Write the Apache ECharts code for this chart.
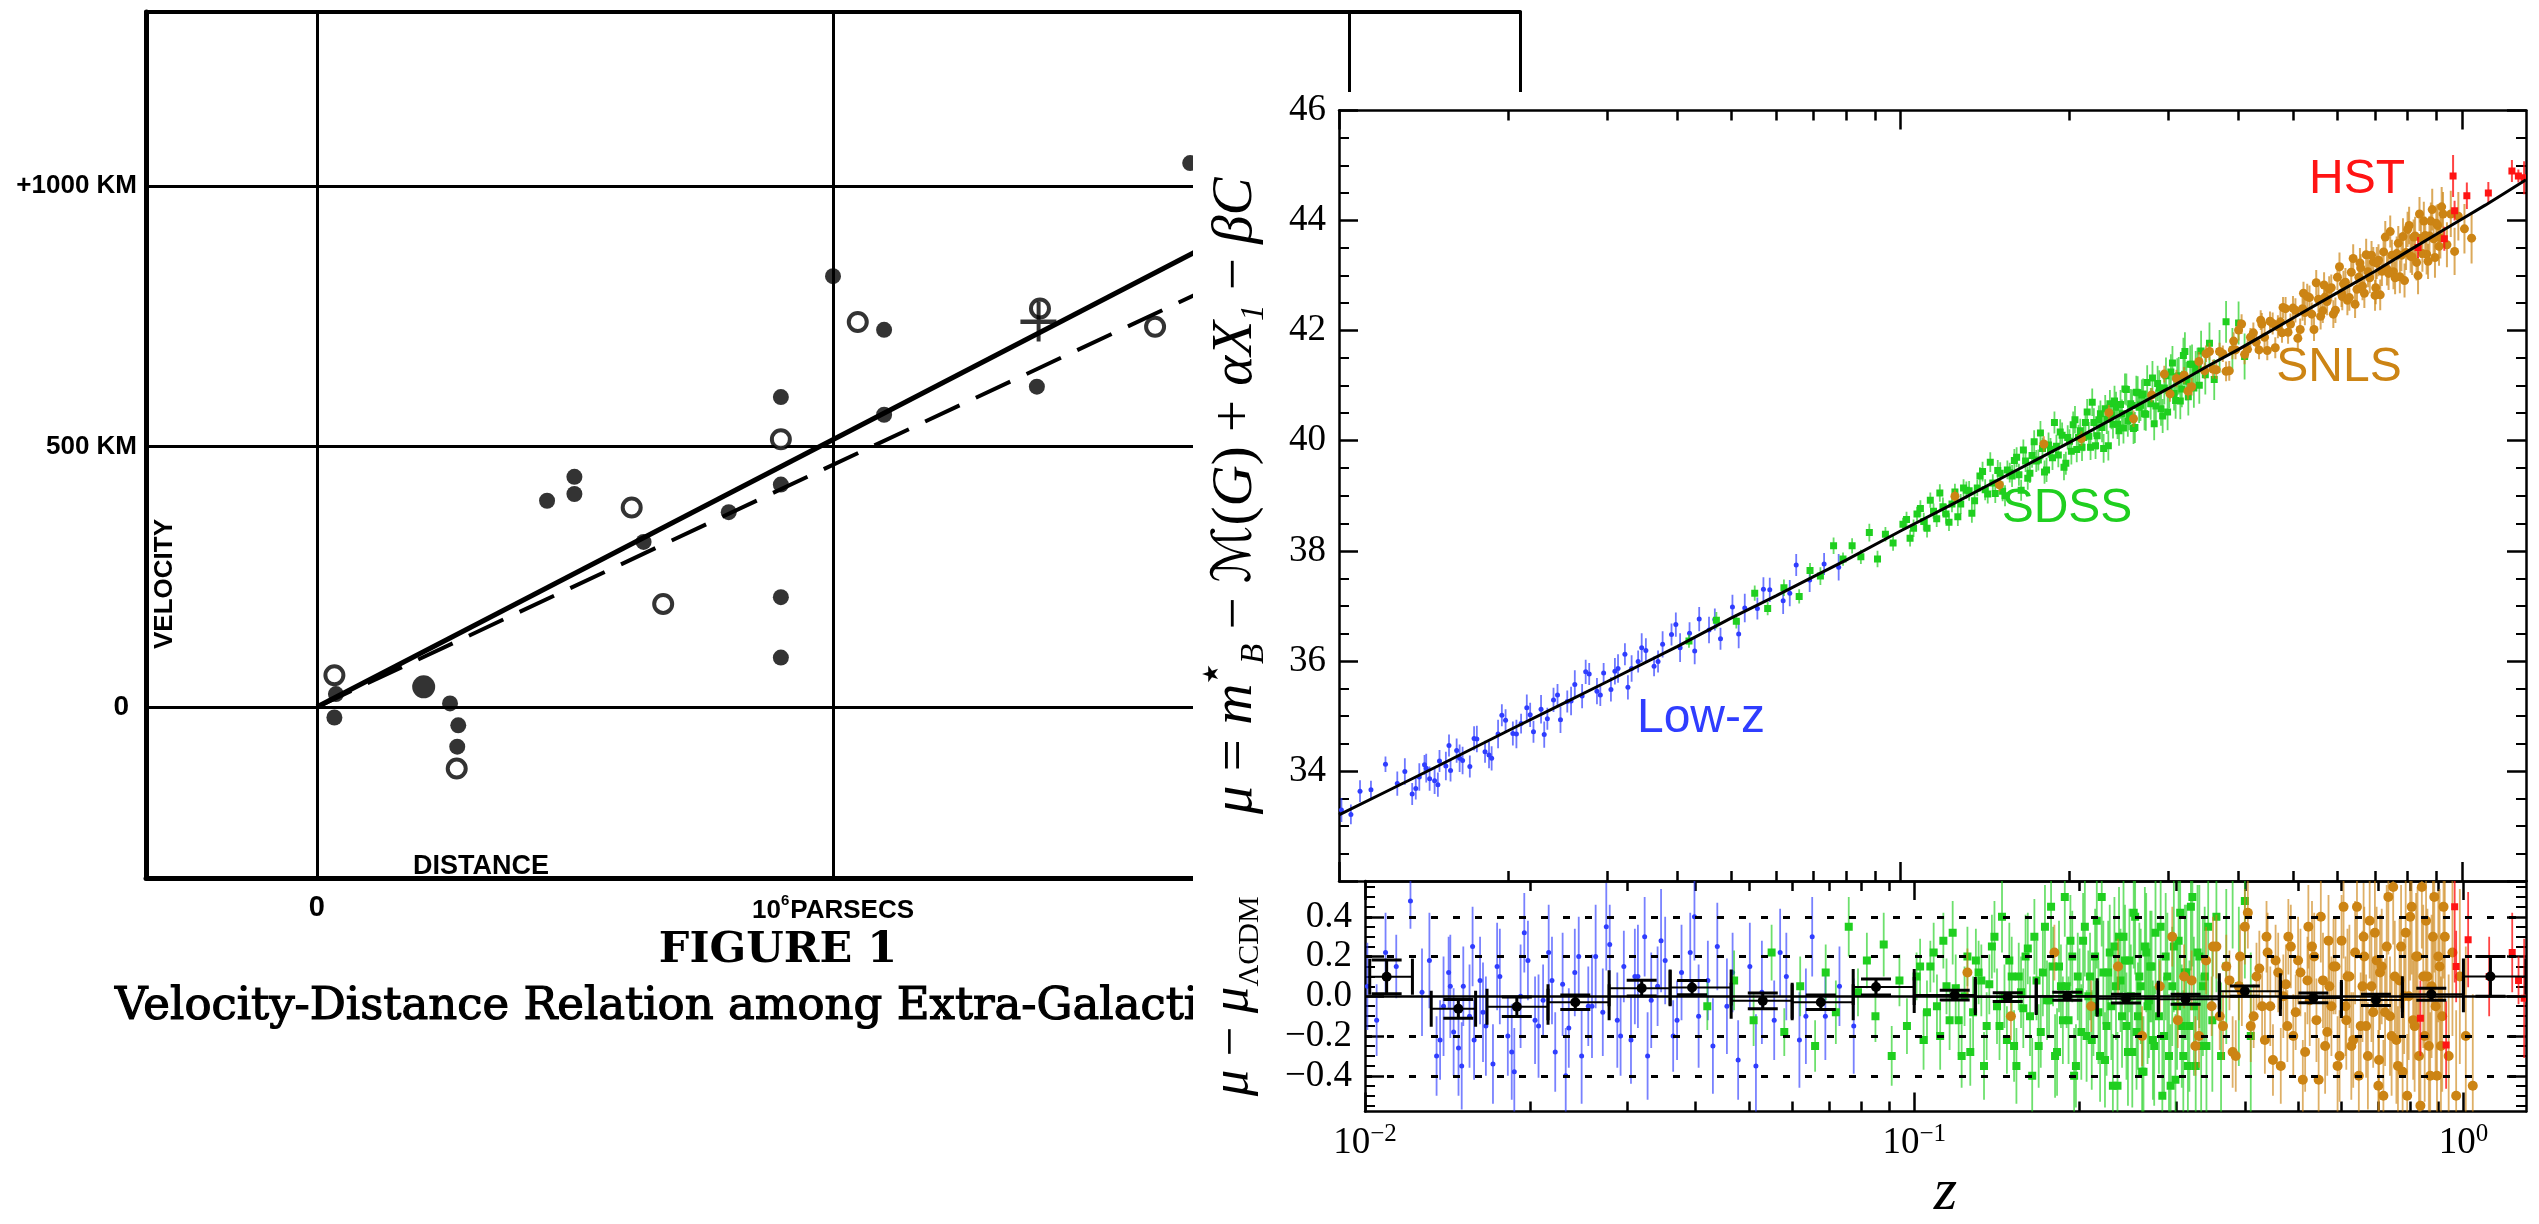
<!DOCTYPE html>
<html><head><meta charset="utf-8">
<script src="https://cdn.jsdelivr.net/npm/echarts@6/dist/echarts.min.js"></script>
<style>
html,body{margin:0;padding:0;background:#fff;}
#hubble{position:absolute;left:0;top:0;width:2539px;height:1224px;}
#jla{position:absolute;left:1193px;top:92px;width:1346px;height:1132px;background:#fff;}
</style></head><body>
<div id="hubble"></div><div id="jla"></div>
<script>
// ================= Hubble (1929) panel data =================
const hubbleFilled = [[0.034,-20],[0.037,25],[0.258,7],[0.274,-35],[0.272,-76],[0.446,396],[0.499,442],[0.499,409],[0.633,317],[0.798,374],[0.899,595],[0.899,427],[0.899,211],[0.899,95],[1.0,827],[1.099,724],[1.099,561],[1.395,615],[1.692,1044]];
const hubbleLarge = [[0.207,39]];
const hubbleOpen = [[0.034,61],[0.271,-118],[0.610,383],[0.671,198],[0.899,514],[1.048,739],[1.401,765],[1.624,730]];
const hubbleCross = [[1.398,740]];
const solidFit = [[0,0],[2.2,1129]];
const dashedFit = [[0,0],[2.2,1023]];
const hubbleXTicks = [0,1,2];
const hubbleXLabels = ['{z|0}','{p|10}{s|6}{p|PARSECS}',''];
const hubbleYTicks = [0,500,1000];
const hubbleYLabels = ['{z|0}','500 KM','+1000 KM'];

// ================= JLA Hubble diagram data =================
const lowzZ = [0.0101,0.0105,0.0109,0.0114,0.0121,0.0127,0.0135,0.0139,0.0142,0.0145,0.0148,0.0151,0.0155,0.0158,0.0162,0.0166,0.0171,0.0176,0.0182,0.0187,0.0192,0.0198,0.0204,0.0211,0.0216,0.0222,0.0229,0.0235,0.0241,0.0248,0.0255,0.0263,0.0271,0.0279,0.0288,0.0296,0.0305,0.0314,0.0323,0.0332,0.0341,0.0352,0.0364,0.0377,0.0391,0.0405,0.0421,0.0438,0.0456,0.0478,0.0502,0.0528,0.0556,0.0585,0.0618,0.0652,0.0689,0.0731,0.0776];
const lowzMu = [33.29,33.21,33.63,33.66,34.12,33.77,33.58,33.89,34.11,33.86,33.82,34.18,34.09,34.01,34.37,34.19,34.08,34.58,34.35,34.23,34.67,34.92,34.68,34.86,35.15,34.71,35.12,34.95,35.29,34.93,35.26,35.57,35.36,35.76,35.45,35.78,35.48,35.86,36.12,35.86,35.99,36.19,35.90,36.30,36.48,36.24,36.50,36.76,36.56,36.40,36.98,36.96,36.95,37.29,37.09,37.74,37.47,37.76,37.70];
const lowzRes = [0.05,-0.12,0.22,0.15,0.48,0.02,-0.30,-0.05,0.12,-0.18,-0.26,0.05,-0.10,-0.22,0.08,-0.15,-0.34,0.10,-0.20,-0.38,0.00,0.18,-0.12,-0.02,0.22,-0.28,0.06,-0.16,0.12,-0.30,-0.05,0.20,-0.08,0.26,-0.12,0.15,-0.22,0.10,0.30,-0.02,0.05,0.18,-0.20,0.12,0.22,-0.10,0.08,0.25,-0.05,-0.32,0.15,0.02,-0.12,0.10,-0.22,0.30,-0.10,0.05,-0.15];
const lowzErr = [0.22,0.18,0.20,0.16,0.14,0.22,0.20,0.25,0.18,0.22,0.24,0.20,0.26,0.20,0.22,0.25,0.20,0.24,0.20,0.22,0.26,0.20,0.22,0.18,0.24,0.20,0.26,0.20,0.22,0.24,0.20,0.26,0.22,0.20,0.24,0.18,0.22,0.26,0.20,0.24,0.20,0.22,0.18,0.24,0.20,0.26,0.20,0.22,0.24,0.20,0.22,0.26,0.20,0.22,0.24,0.20,0.22,0.20,0.24];
const lowzZ2 = [0.0131,0.0137,0.0143,0.0150,0.0157,0.0164,0.0174,0.0185,0.0195,0.0207,0.0219,0.0232,0.0245,0.0259,0.0275,0.0292,0.0310,0.0327,0.0346,0.0370,0.0398,0.0430,0.0467,0.0515,0.0570,0.0635];
const lowzMu2 = [33.99,33.68,34.05,33.75,34.46,34.23,34.59,34.29,35.01,34.67,35.02,34.66,35.38,35.27,35.80,35.38,35.81,35.52,36.24,35.99,36.66,36.18,36.75,36.49,37.30,37.23];
const lowzRes2 = [0.18,-0.22,0.05,-0.35,0.25,-0.08,0.15,-0.28,0.32,-0.15,0.08,-0.40,0.20,-0.05,0.35,-0.20,0.10,-0.30,0.28,-0.12,0.40,-0.25,0.12,-0.35,0.22,-0.10];
const lowzErr2 = [0.24,0.20,0.26,0.22,0.20,0.25,0.22,0.24,0.20,0.26,0.22,0.24,0.20,0.26,0.22,0.20,0.24,0.22,0.26,0.20,0.22,0.24,0.20,0.26,0.22,0.24];

const sdssZ = [0.042,0.047,0.051,0.055,0.058,0.062,0.066,0.069,0.072,0.076,0.079,0.082,0.085,0.088,0.091,0.094,0.097,0.101,0.104,0.107,0.110,0.113,0.116,0.119,0.122,0.125,0.128,0.131,0.134,0.137,0.140,0.143,0.146,0.149,0.152,0.155,0.158,0.161,0.164,0.167,0.170,0.173,0.176,0.179,0.182,0.185,0.188,0.191,0.194,0.197,0.200,0.203,0.206,0.209,0.212,0.215,0.218,0.221,0.224,0.227,0.230,0.233,0.236,0.239,0.242,0.245,0.248,0.251,0.254,0.257,0.260,0.263,0.266,0.269,0.272,0.275,0.279,0.283,0.287,0.291,0.295,0.299,0.303,0.307,0.311,0.315,0.319,0.323,0.328,0.333,0.338,0.343,0.349,0.355,0.362,0.370,0.380,0.390,0.400,0.410];
const sdssMu = [36.36,36.74,36.72,37.23,36.95,37.33,37.17,37.64,37.54,38.09,37.85,38.09,37.89,38.33,37.85,38.30,38.14,38.48,38.23,38.67,38.53,38.92,38.58,38.80,38.52,39.07,38.85,39.10,38.68,39.14,39.44,39.03,39.23,39.46,39.08,39.47,39.36,39.70,39.10,39.63,39.41,39.98,39.65,39.86,39.47,39.84,40.33,39.74,40.10,39.59,39.99,40.29,39.84,40.18,40.06,40.52,39.88,40.33,40.09,40.49,39.86,40.39,40.67,40.30,40.61,40.18,40.49,40.94,40.36,40.67,40.22,40.88,40.61,40.83,40.49,41.06,40.67,40.31,41.04,40.58,40.96,40.52,41.25,40.86,41.16,40.72,41.55,41.08,41.39,40.96,41.34,41.63,41.20,41.77,41.11,41.62,42.16,41.65,42.14,41.53];
const sdssRes = [-0.05,0.08,-0.12,0.22,-0.18,0.05,-0.25,0.12,-0.08,0.35,0.02,0.18,-0.10,0.26,-0.30,0.08,-0.15,0.10,-0.22,0.15,-0.05,0.28,-0.12,0.04,-0.30,0.20,-0.08,0.12,-0.35,0.06,0.30,-0.15,0.00,0.18,-0.25,0.10,-0.06,0.24,-0.40,0.08,-0.18,0.35,-0.02,0.15,-0.28,0.05,0.50,-0.12,0.20,-0.35,0.02,0.28,-0.20,0.10,-0.05,0.38,-0.30,0.12,-0.15,0.22,-0.45,0.05,0.30,-0.10,0.18,-0.28,0.00,0.42,-0.18,0.10,-0.38,0.25,-0.05,0.15,-0.22,0.32,-0.10,-0.50,0.20,-0.30,0.05,-0.42,0.28,-0.15,0.12,-0.35,0.45,-0.05,0.22,-0.25,0.10,0.35,-0.12,0.40,-0.30,0.15,0.62,0.05,0.48,-0.20];
const sdssErr = [0.12,0.15,0.13,0.14,0.12,0.15,0.13,0.14,0.16,0.15,0.12,0.14,0.13,0.16,0.15,0.13,0.14,0.12,0.15,0.13,0.16,0.14,0.15,0.17,0.16,0.15,0.18,0.16,0.17,0.15,0.18,0.17,0.16,0.19,0.18,0.17,0.20,0.18,0.19,0.20,0.18,0.21,0.19,0.20,0.22,0.21,0.20,0.22,0.23,0.21,0.22,0.24,0.23,0.22,0.25,0.24,0.23,0.26,0.25,0.24,0.26,0.27,0.25,0.26,0.28,0.27,0.26,0.28,0.29,0.27,0.28,0.30,0.29,0.28,0.30,0.31,0.29,0.30,0.32,0.31,0.30,0.33,0.32,0.31,0.34,0.33,0.32,0.35,0.34,0.36,0.35,0.37,0.36,0.38,0.37,0.39,0.38,0.40,0.39,0.42];
const sdssZ2 = [0.1025,0.1055,0.1085,0.1115,0.1145,0.1175,0.1205,0.1235,0.1265,0.1295,0.1325,0.1355,0.1385,0.1415,0.1445,0.1475,0.1505,0.1535,0.1565,0.1595,0.1625,0.1655,0.1685,0.1715,0.1745,0.1775,0.1805,0.1835,0.1865,0.1895,0.1925,0.1955,0.1985,0.2015,0.2045,0.2075,0.2105,0.2135,0.2165,0.2195,0.2225,0.2255,0.2285,0.2315,0.2345,0.2375,0.2405,0.2435,0.2465,0.2495,0.2525,0.2555,0.2585,0.2615,0.2645,0.2675,0.2705,0.2735,0.281,0.285,0.289,0.293,0.297,0.301,0.305,0.309,0.313,0.317,0.321,0.3255,0.3305,0.3355,0.3405];
const sdssMu2 = [38.57,38.41,38.77,38.41,38.72,39.05,38.67,38.85,38.62,39.14,39.09,38.91,39.36,39.11,39.61,39.04,39.41,39.00,39.42,39.64,39.38,39.83,39.32,39.73,39.63,40.14,39.43,39.92,39.69,39.90,40.16,39.52,40.06,39.81,40.38,40.06,39.88,40.33,40.08,40.70,39.91,40.38,40.24,40.58,39.91,40.47,40.72,40.30,40.66,40.23,40.93,40.46,40.64,40.24,40.87,40.65,40.85,40.48,41.14,40.63,40.96,40.45,41.18,40.91,41.41,40.73,41.18,40.94,41.62,40.80,41.39,41.28,41.01];
const sdssRes2 = [0.15,-0.08,0.22,-0.20,0.05,0.32,-0.12,0.00,-0.28,0.18,0.08,-0.15,0.25,-0.05,0.40,-0.22,0.10,-0.35,0.02,0.20,-0.10,0.30,-0.25,0.12,-0.02,0.45,-0.30,0.15,-0.12,0.05,0.28,-0.40,0.10,-0.18,0.35,0.00,-0.22,0.20,-0.08,0.50,-0.32,0.12,-0.05,0.25,-0.45,0.08,0.30,-0.15,0.18,-0.28,0.40,-0.10,0.05,-0.38,0.22,-0.02,0.15,-0.25,0.35,-0.20,0.10,-0.45,0.25,-0.05,0.42,-0.30,0.12,-0.15,0.50,-0.35,0.20,0.05,-0.25];
const sdssErr2 = [0.14,0.16,0.15,0.17,0.14,0.16,0.18,0.15,0.17,0.16,0.18,0.17,0.16,0.19,0.18,0.17,0.20,0.19,0.18,0.21,0.20,0.19,0.21,0.22,0.20,0.22,0.21,0.23,0.22,0.21,0.23,0.24,0.22,0.24,0.25,0.23,0.25,0.24,0.26,0.25,0.24,0.26,0.27,0.25,0.27,0.26,0.28,0.27,0.26,0.28,0.29,0.27,0.29,0.28,0.30,0.29,0.28,0.30,0.31,0.30,0.32,0.31,0.33,0.32,0.31,0.33,0.34,0.33,0.35,0.34,0.36,0.35,0.34];

const snlsZ = [0.125,0.15,0.18,0.21,0.235,0.26,0.28,0.295,0.302,0.31,0.325,0.34,0.348,0.355,0.365,0.375,0.385,0.392,0.395,0.405,0.415,0.425,0.435,0.438,0.445,0.455,0.465,0.475,0.478,0.485,0.495,0.505,0.515,0.522,0.525,0.535,0.545,0.555,0.565,0.568,0.575,0.585,0.595,0.605,0.612,0.615,0.625,0.635,0.645,0.655,0.658,0.665,0.675,0.685,0.695,0.702,0.705,0.715,0.725,0.735,0.745,0.755,0.765,0.775,0.785,0.795,0.805,0.815,0.825,0.835,0.845,0.855,0.865,0.875,0.885,0.895,0.905,0.915,0.925,0.94,0.955,0.97,0.985,1.01,1.04];
const snlsMu = [38.99,39.20,39.94,40.04,40.51,40.40,40.83,41.21,40.85,41.13,40.90,41.44,41.27,41.62,41.29,41.58,41.27,41.81,41.65,42.12,41.66,41.96,41.65,42.19,41.88,42.17,41.69,42.16,41.96,42.40,42.12,42.37,42.02,42.68,42.33,42.60,42.02,42.57,42.36,42.83,42.53,42.78,42.37,43.16,42.62,42.85,42.55,43.06,42.48,42.97,43.23,42.81,43.38,42.96,43.25,42.78,43.23,42.65,43.43,43.12,43.80,43.07,43.40,42.98,43.71,43.42,43.91,43.34,43.72,43.00,43.68,43.99,43.39,43.72,44.20,43.33,43.91,43.69,44.12,43.56,44.12,43.44,44.08,43.85,43.68];
const snlsRes = [0.12,-0.10,0.22,-0.05,0.15,-0.20,0.05,0.30,-0.12,0.10,-0.25,0.18,-0.05,0.25,-0.15,0.08,-0.30,0.20,0.02,0.42,-0.10,0.14,-0.22,0.30,-0.05,0.18,-0.35,0.06,-0.15,0.25,-0.08,0.12,-0.28,0.35,-0.02,0.20,-0.42,0.08,-0.18,0.28,-0.05,0.15,-0.30,0.45,-0.12,0.10,-0.25,0.22,-0.40,0.05,0.30,-0.15,0.38,-0.08,0.18,-0.32,0.12,-0.50,0.25,-0.10,0.55,-0.22,0.08,-0.38,0.32,0.00,0.45,-0.15,0.20,-0.55,0.10,0.38,-0.25,0.05,0.50,-0.40,0.15,-0.10,0.30,-0.30,0.22,-0.50,0.10,-0.20,-0.45];
const snlsErr = [0.12,0.12,0.14,0.13,0.14,0.15,0.13,0.15,0.14,0.16,0.15,0.17,0.15,0.16,0.17,0.15,0.18,0.16,0.17,0.18,0.16,0.19,0.17,0.18,0.20,0.18,0.19,0.20,0.18,0.21,0.19,0.22,0.20,0.21,0.23,0.22,0.21,0.24,0.22,0.23,0.25,0.24,0.23,0.26,0.25,0.24,0.27,0.26,0.25,0.28,0.27,0.26,0.29,0.28,0.27,0.30,0.29,0.28,0.31,0.30,0.29,0.32,0.31,0.30,0.33,0.32,0.34,0.33,0.35,0.34,0.36,0.35,0.37,0.36,0.38,0.37,0.39,0.38,0.40,0.41,0.42,0.43,0.44,0.45,0.46];
const snlsZ2 = [0.32,0.33,0.35,0.36,0.37,0.38,0.39,0.40,0.41,0.42,0.43,0.44,0.45,0.46,0.47,0.48,0.49,0.50,0.51,0.52,0.53,0.54,0.55,0.56,0.57,0.58,0.59,0.60,0.61,0.62,0.63,0.64,0.65,0.66,0.67,0.68,0.69,0.70,0.71,0.72,0.73,0.74,0.75,0.76,0.77,0.78,0.79,0.80,0.81,0.82,0.83,0.84,0.85,0.86,0.87,0.88,0.89,0.90,0.91,0.92];
const snlsMu2 = [41.19,40.98,41.58,41.30,41.62,41.26,41.65,42.01,41.57,41.88,41.79,42.12,41.64,42.13,42.07,42.42,41.97,42.41,41.86,42.40,42.62,42.30,42.87,42.26,42.61,42.75,42.30,42.97,42.68,42.88,42.60,43.31,42.75,43.14,42.68,43.07,43.37,42.64,43.28,43.08,43.70,43.04,43.37,42.96,43.59,43.37,42.91,43.84,43.35,43.70,43.24,44.12,43.40,43.73,43.26,43.99,43.67,43.95,43.53,44.25];
const snlsRes2 = [0.08,-0.20,0.25,-0.10,0.15,-0.28,0.05,0.35,-0.15,0.10,-0.05,0.22,-0.32,0.12,0.00,0.30,-0.20,0.18,-0.42,0.08,0.25,-0.12,0.40,-0.25,0.05,0.15,-0.35,0.28,-0.05,0.10,-0.22,0.45,-0.15,0.20,-0.30,0.05,0.32,-0.45,0.15,-0.08,0.50,-0.20,0.10,-0.35,0.25,0.00,-0.50,0.40,-0.12,0.20,-0.30,0.55,-0.20,0.10,-0.40,0.30,-0.05,0.20,-0.25,0.45];
const snlsErr2 = [0.15,0.16,0.15,0.17,0.16,0.18,0.17,0.19,0.18,0.17,0.19,0.20,0.18,0.20,0.21,0.19,0.21,0.22,0.20,0.22,0.23,0.21,0.23,0.24,0.22,0.24,0.25,0.23,0.25,0.26,0.24,0.26,0.27,0.25,0.27,0.28,0.26,0.28,0.29,0.27,0.29,0.30,0.28,0.30,0.31,0.29,0.31,0.32,0.30,0.32,0.33,0.31,0.33,0.34,0.32,0.34,0.35,0.33,0.35,0.36];

const hstZ = [0.835,0.93,0.964,0.97,1.02,1.114,1.227,1.26,1.29];
const hstMu = [43.51,43.67,44.81,44.18,44.45,44.50,44.90,44.81,44.78];
const hstRes = [-0.11,-0.245,0.45,0.15,0.285,0.10,0.22,0.08,-0.01];
const hstErr = [0.19,0.22,0.38,0.18,0.24,0.20,0.20,0.12,0.30];

const modelZ = [0.01,0.0125,0.015,0.02,0.025,0.03,0.04,0.05,0.06,0.07,0.08,0.1,0.125,0.15,0.2,0.25,0.3,0.35,0.4,0.45,0.5,0.6,0.7,0.8,0.9,1.0,1.1,1.2,1.3];
const modelMu = [33.20,33.69,34.09,34.73,35.22,35.62,36.26,36.78,37.18,37.53,37.83,38.36,38.87,39.30,39.97,40.51,40.95,41.34,41.66,41.96,42.23,42.69,43.08,43.44,43.75,44.03,44.28,44.52,44.74];

const binZ = [0.01095,0.01479,0.0189,0.02415,0.0319,0.0394,0.053,0.0676,0.0852,0.1185,0.148,0.190,0.243,0.312,0.400,0.533,0.693,0.874,1.12];
const binRes = [0.098,-0.063,-0.053,-0.030,0.041,0.044,-0.023,-0.030,0.047,0.006,-0.004,0.000,-0.012,-0.015,0.026,-0.008,-0.018,0.010,0.100];
const binErr = [0.085,0.047,0.049,0.036,0.040,0.036,0.040,0.036,0.040,0.025,0.022,0.020,0.022,0.025,0.026,0.025,0.028,0.030,0.100];
const binLo = [0.0102,0.0132,0.01668,0.02154,0.02783,0.03594,0.04642,0.05995,0.07743,0.1,0.1292,0.1668,0.2154,0.2783,0.3594,0.4642,0.5995,0.7743,1.0];
const binHi = [0.0122,0.0159,0.02154,0.02783,0.03594,0.04642,0.05995,0.07743,0.1,0.1292,0.1668,0.2154,0.2783,0.3594,0.4642,0.5995,0.7743,1.0,1.3];

const majorZ = [0.01,0.1,1];
const majorZExp = ['−2','−1','0'];
const minorZ = [0.02,0.03,0.04,0.05,0.06,0.07,0.08,0.09,0.2,0.3,0.4,0.5,0.6,0.7,0.8,0.9];
const muLabels = [34,36,38,40,42,44,46];
const resTicks = [-0.4,-0.2,0,0.2,0.4];
const resMinor = [-0.55,-0.5,-0.45,-0.35,-0.3,-0.25,-0.15,-0.1,-0.05,0.05,0.1,0.15,0.25,0.3,0.35,0.45,0.5,0.55];
const refLevels = [-0.4,-0.2,0.2,0.4];

// ================= Chart 1: Hubble 1929 =================
const boldSans = 'Liberation Sans';
const chartL = echarts.init(document.getElementById('hubble'));
chartL.setOption({
  animation:false,
  backgroundColor:'#fff',
  grid:{left:146, top:12, width:1374, height:866},
  xAxis:[{
    type:'value', min:-0.331, max:2.331, position:'bottom',
    axisLine:{show:true,onZero:false,lineStyle:{color:'#000',width:5}},
    axisTick:{show:false, customValues:hubbleXTicks},
    axisLabel:{customValues:hubbleXTicks, margin:14, color:'#000',
      formatter:function(v){const i=hubbleXTicks.indexOf(v);return i<0?'':hubbleXLabels[i];},
      rich:{
        z:{fontFamily:boldSans,fontWeight:'bold',fontSize:29,color:'#000',lineHeight:32},
        p:{fontFamily:boldSans,fontWeight:'bold',fontSize:26,color:'#000',lineHeight:32,verticalAlign:'bottom'},
        s:{fontFamily:boldSans,fontWeight:'bold',fontSize:15,color:'#000',lineHeight:16,verticalAlign:'top',padding:[1,1,0,0]}
      }},
    splitLine:{show:true, lineStyle:{color:'#000', width:3}}
  },{
    type:'value', min:-0.331, max:2.331, position:'top',
    axisLine:{show:true,onZero:false,lineStyle:{color:'#000',width:4}},
    axisTick:{show:false}, axisLabel:{show:false}, splitLine:{show:false}
  }],
  yAxis:[{
    type:'value', min:-328, max:1334, position:'left',
    axisLine:{show:true,onZero:false,lineStyle:{color:'#000',width:5}},
    axisTick:{show:false, customValues:hubbleYTicks},
    axisLabel:{customValues:hubbleYTicks, margin:9, color:'#000', fontFamily:boldSans, fontWeight:'bold', fontSize:26,
      formatter:function(v){const i=hubbleYTicks.indexOf(v);return i<0?'':hubbleYLabels[i];},
      rich:{z:{fontFamily:boldSans,fontWeight:'bold',fontSize:28,color:'#000',padding:[0,8,0,0]}}},
    splitLine:{show:true, lineStyle:{color:'#000', width:3}}
  },{
    type:'value', min:-328, max:1334, position:'right',
    axisLine:{show:true,onZero:false,lineStyle:{color:'#000',width:3}},
    axisTick:{show:false}, axisLabel:{show:false}, splitLine:{show:false}
  }],
  series:[
    {type:'line', data:solidFit, symbol:'none', lineStyle:{color:'#000',width:5}, z:2},
    {type:'line', data:dashedFit, symbol:'none', lineStyle:{color:'#000',width:4,type:[38,18]}, z:2},
    {type:'scatter', data:hubbleFilled, symbol:'circle', symbolSize:16, itemStyle:{color:'#000'}, z:4},
    {type:'scatter', data:hubbleLarge, symbol:'circle', symbolSize:23, itemStyle:{color:'#000'}, z:4},
    {type:'scatter', data:hubbleOpen, symbol:'circle', symbolSize:18, itemStyle:{color:'#fff',borderColor:'#000',borderWidth:4}, z:5},
    {type:'scatter', data:hubbleCross, symbol:'path://M0,9h20v2.2h-20z M9,0h2.2v20h-2.2z', symbolSize:[36,40], itemStyle:{color:'#000'}, z:6}
  ],
  graphic:[
    {type:'text', x:165, y:584, rotation:Math.PI/2, style:{text:'VELOCITY', fill:'#000', font:'bold 26px "Liberation Sans"', align:'center', verticalAlign:'middle', textAlign:'center', textVerticalAlign:'middle'}},
    {type:'text', x:481, y:867, style:{text:'DISTANCE', fill:'#000', font:'bold 27px "Liberation Sans"', align:'center', verticalAlign:'middle', textAlign:'center', textVerticalAlign:'middle'}},
    {type:'text', x:778, y:951, style:{text:'FIGURE 1', fill:'#000', font:'bold 43px "DejaVu Serif"', align:'center', verticalAlign:'middle', textAlign:'center', textVerticalAlign:'middle'}},
    {type:'text', x:115, y:1007, style:{text:'Velocity-Distance Relation among Extra-Galactic Nebulae.', fill:'#000', stroke:'#000', lineWidth:1.2, font:'45px "DejaVu Serif"', align:'left', verticalAlign:'middle', textAlign:'left', textVerticalAlign:'middle'}}
  ]
});

// ================= Chart 2: JLA Hubble diagram =================
const serif = 'Liberation Serif';
const lowzColor = '#2f3dff', sdssColor = '#1fcf1f', snlsColor = '#cc8414', hstColor = '#ff1414';
function pts(zs, vs, es){ return zs.map(function(z,i){ return [z, vs[i], es[i]]; }); }
function errItem(color, shape, size, lw, op){
  return function(params, api){
    const z=api.value(0), v=api.value(1), e=api.value(2);
    const c=api.coord([z,v]), lo=api.coord([z,v-e]), hi=api.coord([z,v+e]);
    const mark = shape==='rect'
      ? {type:'rect', shape:{x:c[0]-size/2,y:c[1]-size/2,width:size,height:size}, style:{fill:color}}
      : {type:'circle', shape:{cx:c[0],cy:c[1],r:size/2}, style:{fill:color}};
    return {type:'group', children:[
      {type:'line', shape:{x1:c[0],y1:lo[1],x2:c[0],y2:hi[1]}, style:{stroke:color,lineWidth:lw,opacity:op}},
      mark]};
  };
}
function binItem(params, api){
  const z=api.value(0), r=api.value(1), e=api.value(2), lo=api.value(3), hi=api.value(4);
  const c=api.coord([z,r]), pl=api.coord([lo,r]), ph=api.coord([hi,r]);
  const pt=api.coord([z,r+e]), pb=api.coord([z,r-e]);
  const capH=18, capW=15, st={stroke:'#000', lineWidth:3};
  return {type:'group', children:[
    {type:'line', shape:{x1:pl[0],y1:c[1],x2:ph[0],y2:c[1]}, style:{stroke:'#000',lineWidth:2}},
    {type:'line', shape:{x1:pl[0],y1:c[1]-capH,x2:pl[0],y2:c[1]+capH}, style:st},
    {type:'line', shape:{x1:ph[0],y1:c[1]-capH,x2:ph[0],y2:c[1]+capH}, style:st},
    {type:'line', shape:{x1:c[0],y1:pt[1],x2:c[0],y2:pb[1]}, style:st},
    {type:'line', shape:{x1:c[0]-capW,y1:pt[1],x2:c[0]+capW,y2:pt[1]}, style:st},
    {type:'line', shape:{x1:c[0]-capW,y1:pb[1],x2:c[0]+capW,y2:pb[1]}, style:st},
    {type:'circle', shape:{cx:c[0],cy:c[1],r:5}, style:{fill:'#000'}}
  ]};
}
function zLabel(v){
  const i = majorZ.findIndex(function(t){ return Math.abs(Math.log10(t)-Math.log10(v))<1e-6; });
  return i<0 ? '' : '{b|10}{s|'+majorZExp[i]+'}';
}
function xAx(grid, pos, vals, len, line, labels){
  const a = {type:'log', logBase:10, min:0.01, max:1.3, gridIndex:grid, position:pos,
    axisLine:{show:line, onZero:false, lineStyle:{color:'#000',width:2.5}},
    axisTick:{show:true, inside:true, length:len, customValues:vals, lineStyle:{color:'#000',width:2.5}},
    axisLabel:{show:false}, splitLine:{show:false}, minorTick:{show:false}};
  if (labels){
    a.axisLabel = {show:true, customValues:majorZ, margin:10, formatter:zLabel, color:'#000',
      rich:{b:{fontFamily:serif,fontSize:37,lineHeight:44,color:'#000'},
            s:{fontFamily:serif,fontSize:25,lineHeight:24,verticalAlign:'top',color:'#000'}}};
    a.name = 'z'; a.nameLocation='middle'; a.nameGap=44;
    a.nameTextStyle = {fontFamily:serif, fontStyle:'italic', fontSize:60, color:'#000'};
  }
  return a;
}
const nameTop = '{i|μ}{r| = }{i|m}{sup|★}{sub|B}{r| − }{cal|ℳ}{r|(}{i|G}{r|) + }{i|αX}{sub|1}{r| − }{i|βC}';
const nameBot = '{i|μ}{r| − }{i|μ}{sub|ΛCDM}';
const chartR = echarts.init(document.getElementById('jla'));
chartR.setOption({
  animation:false,
  backgroundColor:'#fff',
  grid:[{left:120, top:17, width:1213, height:772},{left:120, top:789, width:1213, height:256}],
  xAxis:[
    xAx(0,'bottom',majorZ,19,true,false), xAx(0,'bottom',minorZ,10,false,false),
    xAx(0,'top',majorZ,19,true,false), xAx(0,'top',minorZ,10,false,false),
    xAx(1,'bottom',majorZ,19,true,true), xAx(1,'bottom',minorZ,10,false,false),
    xAx(1,'top',majorZ,19,true,false), xAx(1,'top',minorZ,10,false,false)
  ],
  yAxis:[
    {type:'value', gridIndex:0, min:32, max:46, interval:2, position:'left',
     axisLine:{show:true,onZero:false,lineStyle:{color:'#000',width:2.5}},
     axisTick:{inside:true,length:19,lineStyle:{color:'#000',width:2.5}},
     minorTick:{show:true,splitNumber:4,length:10,lineStyle:{color:'#000',width:2}},
     axisLabel:{customValues:muLabels, margin:13, color:'#000', fontFamily:serif, fontSize:37},
     splitLine:{show:false},
     name:nameTop, nameLocation:'middle', nameRotate:90, nameGap:68,
     nameTextStyle:{color:'#000', fontFamily:serif, fontSize:56, lineHeight:70,
       rich:{i:{fontFamily:serif,fontStyle:'italic',fontSize:57,lineHeight:70,color:'#000'},
             r:{fontFamily:serif,fontSize:57,lineHeight:70,color:'#000'},
             cal:{fontFamily:'"DejaVu Serif","DejaVu Sans"',fontStyle:'italic',fontSize:54,lineHeight:70,color:'#000'},
             sup:{fontFamily:'"DejaVu Sans"',fontSize:22,lineHeight:30,verticalAlign:'top',color:'#000'},
             sub:{fontFamily:serif,fontStyle:'italic',fontSize:33,lineHeight:30,verticalAlign:'bottom',color:'#000'}}}},
    {type:'value', gridIndex:0, min:32, max:46, interval:2, position:'right',
     axisLine:{show:true,onZero:false,lineStyle:{color:'#000',width:2.5}},
     axisTick:{inside:true,length:19,lineStyle:{color:'#000',width:2.5}},
     minorTick:{show:true,splitNumber:4,length:10,lineStyle:{color:'#000',width:2}},
     axisLabel:{show:false}, splitLine:{show:false}},
    {type:'value', gridIndex:1, min:-0.58, max:0.58, position:'left',
     axisLine:{show:true,onZero:false,lineStyle:{color:'#000',width:2.5}},
     axisTick:{inside:true,length:19,customValues:resTicks,lineStyle:{color:'#000',width:2.5}},
     axisLabel:{customValues:resTicks, margin:13, color:'#000', fontFamily:serif, fontSize:37,
       formatter:function(v){ return (v<-1e-9?'−':'')+Math.abs(v).toFixed(1); }},
     splitLine:{show:false},
     name:nameBot, nameLocation:'middle', nameRotate:90, nameGap:100,
     nameTextStyle:{color:'#000', fontFamily:serif, fontSize:52, lineHeight:64,
       rich:{i:{fontFamily:serif,fontStyle:'italic',fontSize:53,lineHeight:64,color:'#000'},
             r:{fontFamily:serif,fontSize:53,lineHeight:64,color:'#000'},
             sub:{fontFamily:serif,fontSize:30,lineHeight:30,verticalAlign:'bottom',color:'#000'}}}},
    {type:'value', gridIndex:1, min:-0.58, max:0.58, position:'left',
     axisLine:{show:false}, axisTick:{inside:true,length:10,customValues:resMinor,lineStyle:{color:'#000',width:2}},
     axisLabel:{show:false}, splitLine:{show:false}},
    {type:'value', gridIndex:1, min:-0.58, max:0.58, position:'right',
     axisLine:{show:true,onZero:false,lineStyle:{color:'#000',width:2.5}},
     axisTick:{inside:true,length:19,customValues:resTicks,lineStyle:{color:'#000',width:2.5}},
     axisLabel:{show:false}, splitLine:{show:false}},
    {type:'value', gridIndex:1, min:-0.58, max:0.58, position:'right',
     axisLine:{show:false}, axisTick:{inside:true,length:10,customValues:resMinor,lineStyle:{color:'#000',width:2}},
     axisLabel:{show:false}, splitLine:{show:false}}
  ],
  series:[
    // top panel: distance moduli
    {type:'custom', xAxisIndex:0, yAxisIndex:0, clip:true, z:3, encode:{x:0,y:1}, renderItem:errItem(lowzColor,'circle',5,1.8,0.7), data:pts(lowzZ,lowzMu,lowzErr).concat(pts(lowzZ2,lowzMu2,lowzErr2))},
    {type:'custom', xAxisIndex:0, yAxisIndex:0, clip:true, z:3, encode:{x:0,y:1}, renderItem:errItem(sdssColor,'rect',7,1.8,0.7), data:pts(sdssZ,sdssMu,sdssErr).concat(pts(sdssZ2,sdssMu2,sdssErr2))},
    {type:'custom', xAxisIndex:0, yAxisIndex:0, clip:true, z:3, encode:{x:0,y:1}, renderItem:errItem(snlsColor,'circle',9,2,0.7), data:pts(snlsZ,snlsMu,snlsErr).concat(pts(snlsZ2,snlsMu2,snlsErr2))},
    {type:'custom', xAxisIndex:0, yAxisIndex:0, clip:true, z:3, encode:{x:0,y:1}, renderItem:errItem(hstColor,'rect',7,2,0.8), data:pts(hstZ,hstMu,hstErr)},
    {type:'line', xAxisIndex:0, yAxisIndex:0, z:10, symbol:'none', smooth:false, lineStyle:{color:'#000',width:3},
     data:modelZ.map(function(z,i){return [z, modelMu[i]];})},
    // bottom panel: residuals
    {type:'custom', xAxisIndex:4, yAxisIndex:2, clip:true, z:3, encode:{x:0,y:1}, renderItem:errItem(lowzColor,'circle',5,1.8,0.65), data:pts(lowzZ,lowzRes,lowzErr).concat(pts(lowzZ2,lowzRes2,lowzErr2))},
    {type:'custom', xAxisIndex:4, yAxisIndex:2, clip:true, z:3, encode:{x:0,y:1}, renderItem:errItem(sdssColor,'rect',8,1.8,0.65), data:pts(sdssZ,sdssRes,sdssErr).concat(pts(sdssZ2,sdssRes2,sdssErr2))},
    {type:'custom', xAxisIndex:4, yAxisIndex:2, clip:true, z:3, encode:{x:0,y:1}, renderItem:errItem(snlsColor,'circle',10,1.8,0.65), data:pts(snlsZ,snlsRes,snlsErr).concat(pts(snlsZ2,snlsRes2,snlsErr2))},
    {type:'custom', xAxisIndex:4, yAxisIndex:2, clip:true, z:3, encode:{x:0,y:1}, renderItem:errItem(hstColor,'rect',7,1.8,0.8), data:pts(hstZ,hstRes,hstErr)},
    {type:'custom', xAxisIndex:4, yAxisIndex:2, clip:true, z:8, encode:{x:0,y:1}, renderItem:binItem,
     data:binZ.map(function(z,i){return [z, binRes[i], binErr[i], binLo[i], binHi[i]];}),
     markLine:{silent:true, symbol:'none', label:{show:false}, animation:false,
       data:refLevels.map(function(v){return {yAxis:v, lineStyle:{type:[7,15],width:3,color:'#000'}};})
         .concat([{yAxis:0, lineStyle:{type:'solid',width:2.5,color:'#000'}}])}}
  ],
  graphic:[
    {type:'text', x:508, y:627, z:20, style:{text:'Low-z', fill:lowzColor, font:'48px "Liberation Sans"', align:'center', verticalAlign:'middle', textAlign:'center', textVerticalAlign:'middle'}},
    {type:'text', x:874, y:417, z:20, style:{text:'SDSS', fill:sdssColor, font:'48px "Liberation Sans"', align:'center', verticalAlign:'middle', textAlign:'center', textVerticalAlign:'middle'}},
    {type:'text', x:1146, y:276, z:20, style:{text:'SNLS', fill:snlsColor, font:'48px "Liberation Sans"', align:'center', verticalAlign:'middle', textAlign:'center', textVerticalAlign:'middle'}},
    {type:'text', x:1164, y:88, z:20, style:{text:'HST', fill:hstColor, font:'48px "Liberation Sans"', align:'center', verticalAlign:'middle', textAlign:'center', textVerticalAlign:'middle'}}
  ]
});
</script>
</body></html>
